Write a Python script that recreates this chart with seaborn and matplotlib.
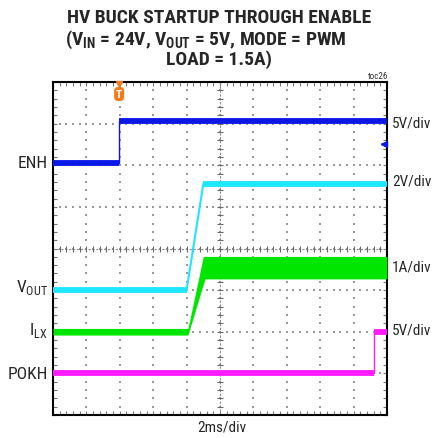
import numpy as np
import pandas as pd
import matplotlib
matplotlib.use("Agg")
import matplotlib.pyplot as plt
import matplotlib.transforms as mtransforms
import seaborn as sns

# ---------------- data (x in divisions, 2 ms/div; y in divisions from bottom) -------------
ENH_x = [0.0, 1.98, 1.98, 10.0]
ENH_y = [6.05, 6.05, 7.07, 7.07]

VOUT_x = [0.0, 4.0, 4.5, 10.0]
VOUT_y = [3.0, 3.0, 5.55, 5.55]

ILX_x = [0.0, 4.04, 4.5, 4.55, 10.0]
ILX_hi = [2.08, 2.08, 3.81, 3.81, 3.81]
ILX_lo = [1.92, 1.92, 3.14, 3.27, 3.27]

POKH_x = [0.0, 9.62, 9.62, 10.0]
POKH_y = [1.0, 1.0, 2.0, 2.0]

trace_labels = ["ENH", r"V$_\mathrm{OUT}$", r"I$_\mathrm{LX}$", "POKH"]
scale_labels = ["5V/div", "2V/div", "1A/div", "5V/div"]
time_label = "2ms/div"
trigger_x = 1.98
trigger_level = 6.5

title_lines = ["HV BUCK STARTUP THROUGH ENABLE",
               r"(V$_\mathbf{IN}$ = 24V, V$_\mathbf{OUT}$ = 5V, MODE = PWM",
               "LOAD = 1.5A)"]

# ---------------- style -------------
sns.set_style("white")
FONT = "Roboto Condensed"
plt.rcParams["font.family"] = [FONT, "Liberation Sans", "DejaVu Sans"]
plt.rcParams["mathtext.fontset"] = "custom"
plt.rcParams["mathtext.rm"] = FONT
plt.rcParams["mathtext.bf"] = FONT + ":bold"

W, H = 433, 439
fig = plt.figure(figsize=(W / 100, H / 100), dpi=100)
L, R, T, B = 53, 387, 83, 416
ax = fig.add_axes([L / W, 1 - B / H, (R - L) / W, (B - T) / H])
ax.set_xlim(0, 10)
ax.set_ylim(0, 8)

# grid dots
gx, gy = np.meshgrid(np.arange(1, 10), np.arange(0, 8.01, 0.2))
ax.scatter(gx.ravel(), gy.ravel(), s=0.6, color="#9a9a9a", marker="s", linewidths=0, zorder=1)
hx, hy = np.meshgrid(np.arange(0, 10.01, 0.2), np.arange(1, 8))
ax.scatter(hx.ravel(), hy.ravel(), s=0.6, color="#9a9a9a", marker="s", linewidths=0, zorder=1)

# center cross lines with ticks
ax.axhline(4, color="#8a8a8a", lw=0.8, ls=(0, (2, 1.5)), zorder=1)
ax.axvline(5, color="#8a8a8a", lw=0.8, ls=(0, (2, 1.5)), zorder=1)
tk = np.arange(0, 10.01, 0.2)
ax.plot(tk, np.full_like(tk, 4), ls="none", marker="|", ms=4, mew=0.8, color="#6a6a6a", zorder=1)
tk2 = np.arange(0, 8.01, 0.2)
ax.plot(np.full_like(tk2, 5), tk2, ls="none", marker="_", ms=4, mew=0.8, color="#6a6a6a", zorder=1)

# frame ticks
ax.xaxis.set_major_locator(matplotlib.ticker.MultipleLocator(1))
ax.xaxis.set_minor_locator(matplotlib.ticker.MultipleLocator(0.2))
ax.yaxis.set_major_locator(matplotlib.ticker.MultipleLocator(1))
ax.yaxis.set_minor_locator(matplotlib.ticker.MultipleLocator(0.2))
ax.tick_params(which="both", direction="in", top=True, right=True, bottom=True, left=True,
               length=3, width=0.8, color="#777777", labelbottom=False, labelleft=False)
for s in ax.spines.values():
    s.set_color("black")
    s.set_linewidth(1.5)
    s.set_visible(True)
ax.set_xlabel("")
ax.set_ylabel("")


def draw_trace(x, y, color, thin=1.0, thick=4.2):
    sns.lineplot(x=x, y=y, sort=False, estimator=None, color=color, lw=thin, ax=ax, zorder=3)
    for i in range(len(x) - 1):
        if y[i] == y[i + 1]:
            ax.plot([x[i], x[i + 1]], [y[i], y[i]], color=color, lw=thick,
                    solid_capstyle="butt", zorder=3)


draw_trace(ENH_x, ENH_y, "#0a18e6")
draw_trace(VOUT_x, VOUT_y, "#1ee6ff", thin=1.5)
ax.fill_between(ILX_x, ILX_lo, ILX_hi, color="#00e600", lw=0, zorder=3)
draw_trace(POKH_x, POKH_y, "#ff1aff")

# trigger marker
trans = mtransforms.blended_transform_factory(ax.transData, ax.transAxes)
ax.plot([trigger_x], [1.0 - 1.5 / 333], marker="v", ms=5, color="#f07c1c", transform=trans,
        clip_on=False, zorder=5)
ax.text(trigger_x, 1 - 12 / 333, "T", transform=trans, ha="center", va="center", fontsize=8,
        fontweight="bold", color="white",
        bbox=dict(boxstyle="round,pad=0.18,rounding_size=0.35", fc="#f07c1c", ec="none"), zorder=5)
# trigger level marker on right edge
ax.plot([9.9], [trigger_level], marker="<", ms=4.5, color="#0a18e6", clip_on=False, zorder=5)
ax.plot([9.85, 10.0], [trigger_level, trigger_level], color="#0a18e6", lw=1.2, zorder=5)


def ftext(px, py, s, **kw):
    fig.text(px / W, 1 - py / H, s, **kw)


ftext(219, 18, title_lines[0], ha="center", va="center", fontsize=14, fontweight="bold")
ftext(206, 40, title_lines[1], ha="center", va="center", fontsize=14, fontweight="bold")
ftext(219, 60, title_lines[2], ha="center", va="center", fontsize=14, fontweight="bold")
ftext(388, 77, "toc26", ha="right", va="center", fontsize=6.5, color="#333333")

left_y = [168, 292, 335, 379]
for lab, py in zip(trace_labels, left_y):
    ftext(48, py, lab, ha="right", va="baseline", fontsize=12.5)

right_y = [128, 186, 271, 335]
for lab, py in zip(scale_labels, right_y):
    ftext(392, py, lab, ha="left", va="baseline", fontsize=11)

ftext(222, 432, time_label, ha="center", va="baseline", fontsize=11)

fig.savefig("out.png", dpi=100)
